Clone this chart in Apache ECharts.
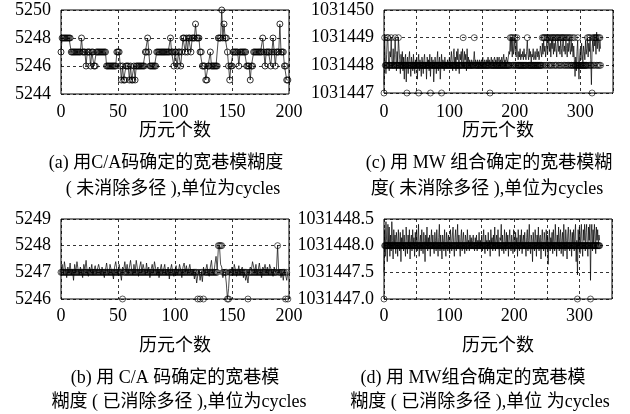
<!DOCTYPE html>
<html><head><meta charset="utf-8">
<script src="https://cdn.jsdelivr.net/npm/echarts/dist/echarts.min.js"></script>
<style>html,body{margin:0;padding:0;background:#fff}#c{width:630px;height:414px}</style>
</head><body><div id="c"></div><script>
// ---------- tick labels ----------
const aYTicks=[5244,5246,5248,5250];
const bYTicks=[5246,5247,5248,5249];
const cYTicks=[1031447,1031448,1031449,1031450];
const dYTicks=[1031447.0,1031447.5,1031448.0,1031448.5];
const abXTicks=[0,50,100,150,200];
const cdXTicks=[0,100,200,300];
const cdXMax=350;
const xLabel='历元个数';
const captionA=['(a) 用C/A码确定的宽巷模糊度','( 未消除多径 ),单位为cycles'];
const captionC=['(c) 用 MW 组合确定的宽巷模糊','度( 未消除多径 ),单位为cycles'];
const captionB=['(b) 用 C/A 码确定的宽巷模','糊度 ( 已消除多径 ),单位为cycles'];
const captionD=['(d) 用 MW组合确定的宽巷模','糊度 ( 已消除多径 ),单位 为cycles'];

// ---------- (a) C/A wide-lane ambiguity, multipath not removed (epoch = index) ----------
const aInt=[
5247,5248,5248,5248,5248,5248,5248,5248,5248,5247,
5247,5247,5247,5247,5247,5247,5247,5247,5248,5247,
5247,5247,5246,5247,5247,5247,5246,5247,5247,5246,
5246,5247,5247,5247,5247,5247,5247,5247,5247,5247,
5246,5246,5246,5246,5246,5246,5246,5246,5246,5247,
5247,5247,5246,5245,5246,5245,5245,5246,5246,5246,
5245,5246,5245,5245,5246,5245,5246,5246,5246,5246,
5246,5246,5246,5246,5247,5247,5248,5247,5246,5246,
5246,5246,5246,5246,5247,5247,5247,5247,5247,5247,
5247,5247,5247,5247,5247,5247,5248,5247,5247,5246,
5247,5247,5246,5247,5247,5246,5247,5248,5248,5247,
5248,5247,5248,5248,5247,5248,5248,5248,5249,5248,
5248,5248,5247,5247,5246,5246,5246,5245,5245,5246,
5246,5247,5246,5246,5246,5246,5246,5246,5248,5248,
5248,5250,5248,5249,5248,5248,5247,5246,5245,5246,
5246,5247,5247,5247,5247,5247,5246,5247,5247,5247,
5247,5247,5247,5246,5246,5246,5245,5246,5246,5247,
5247,5247,5247,5247,5247,5247,5247,5248,5247,5246,
5247,5247,5247,5247,5246,5247,5248,5247,5246,5247,
5247,5247,5249,5247,5247,5247,5246,5246,5245,5245];

// ---------- (b) C/A, multipath removed ----------
const bFloat=[
5247.0,5247.3,5246.9,5247.4,5247.1,5246.8,5247.2,5247.0,5247.35,5246.9,
5247.1,5246.7,5247.3,5247.0,5247.4,5247.1,5246.9,5247.2,5247.0,5246.8,
5247.3,5247.1,5247.45,5247.0,5246.85,5247.2,5247.0,5247.3,5246.9,5247.1,
5247.25,5246.95,5247.0,5247.3,5247.1,5246.9,5247.2,5247.0,5246.8,5247.1,
5247.35,5247.0,5246.9,5247.3,5247.1,5247.0,5246.75,5247.2,5247.4,5247.1,
5246.9,5247.3,5247.0,5246.7,5247.2,5247.1,5247.4,5247.0,5247.3,5246.95,
5247.2,5247.45,5247.1,5246.9,5247.3,5247.0,5247.45,5247.15,5246.85,5247.2,
5247.4,5247.0,5247.3,5247.1,5246.9,5247.35,5247.0,5247.2,5246.8,5247.1,
5247.3,5247.0,5247.4,5247.15,5246.9,5247.2,5246.8,5247.1,5247.3,5246.95,
5247.1,5247.3,5246.9,5247.0,5247.2,5246.75,5247.1,5247.3,5247.0,5246.85,
5247.1,5247.25,5246.9,5247.0,5247.3,5247.1,5246.8,5247.2,5247.35,5247.0,
5247.25,5246.95,5247.1,5247.3,5247.0,5246.9,5247.1,5246.75,5247.0,5246.6,
5246.9,5247.1,5246.7,5247.0,5246.65,5247.2,5246.9,5247.1,5247.3,5247.0,
5246.85,5247.2,5247.45,5247.0,5246.9,5247.3,5247.6,5247.1,5247.9,5248.0,
5247.3,5247.2,5246.8,5247.1,5247.0,5246.6,5246.0,5246.4,5247.1,5247.0,
5247.2,5246.9,5247.3,5247.1,5246.85,5247.0,5247.25,5246.9,5247.1,5247.2,
5246.8,5247.0,5246.7,5246.9,5246.6,5247.0,5247.2,5247.1,5247.4,5247.2,
5247.0,5247.3,5246.9,5247.1,5247.35,5247.0,5246.8,5247.2,5247.1,5247.3,
5247.0,5247.2,5246.9,5247.3,5247.15,5247.0,5246.85,5247.2,5247.0,5247.1,
5248.0,5247.0,5247.1,5246.8,5247.0,5246.7,5247.1,5246.9,5246.7,5247.0];
const bInt=[
5247,5247,5247,5247,5247,5247,5247,5247,5247,5247,
5247,5247,5247,5247,5247,5247,5247,5247,5247,5247,
5247,5247,5247,5247,5247,5247,5247,5247,5247,5247,
5247,5247,5247,5247,5247,5247,5247,5247,5247,5247,
5247,5247,5247,5247,5247,5247,5247,5247,5247,5247,
5247,5247,5247,5247,5246,5247,5247,5247,5247,5247,
5247,5247,5247,5247,5247,5247,5247,5247,5247,5247,
5247,5247,5247,5247,5247,5247,5247,5247,5247,5247,
5247,5247,5247,5247,5247,5247,5247,5247,5247,5247,
5247,5247,5247,5247,5247,5247,5247,5247,5247,5247,
5247,5247,5247,5247,5247,5247,5247,5247,5247,5247,
5247,5247,5247,5247,5247,5247,5247,5247,5247,5247,
5246,5247,5246,5247,5247,5246,5247,5247,5247,5247,
5247,5247,5247,5247,5247,5247,5247,5247,5248,5248,
5248,5248,5247,5247,5247,5247,5246,5246,5247,5247,
5247,5247,5247,5247,5247,5247,5247,5247,5247,5247,
5247,5247,5247,5247,5246,5247,5247,5247,5247,5247,
5247,5247,5247,5247,5247,5247,5247,5247,5247,5247,
5247,5247,5247,5247,5247,5247,5247,5247,5247,5247,
5248,5247,5247,5247,5247,5247,5247,5246,5247,5246];

// ---------- (c) MW combination, multipath not removed: value = cBase + offset ----------
const cBase=1031448;
const cFloatOffset=[
-0.7,1.0,0.2,-0.3,0.4,1.0,0.9,0.1,-0.2,0.5,
0.3,1.0,0.2,-0.1,0.6,0.0,0.3,1.0,0.4,-0.2,
0.5,0.1,1.0,0.6,0.2,-0.3,0.4,0.0,0.5,-0.2,
0.3,-0.5,0.2,0.4,-0.6,0.1,0.3,-0.3,0.2,0.5,
0.0,-0.4,0.3,0.1,-0.2,0.4,0.0,-0.3,0.2,-0.1,
0.3,-0.5,0.1,0.4,-0.2,0.2,0.0,-0.4,0.3,0.1,
-0.3,0.2,0.4,-0.1,0.1,-0.5,0.3,0.0,0.2,-0.2,
0.4,-0.4,0.1,0.3,-0.1,0.2,-0.6,0.0,0.3,0.1,
-0.3,0.2,0.5,-0.2,0.1,0.3,-0.5,0.0,0.4,-0.1,
0.2,0.1,-0.2,0.3,0.0,0.1,-0.1,0.2,0.0,0.1,
0.3,-0.1,0.2,0.5,0.1,-0.2,0.4,0.6,0.0,0.3,
-0.2,0.5,0.2,0.6,0.1,-0.3,0.4,0.2,0.5,0.0,
0.6,0.6,-0.1,0.5,0.2,0.4,-0.2,0.6,0.1,0.3,
0.0,0.2,0.1,-0.1,0.2,0.1,0.0,0.2,0.5,0.1,
0.2,0.0,0.1,0.2,-0.1,0.1,0.2,0.0,0.1,0.2,
0.1,0.3,0.0,0.1,0.2,0.1,0.0,0.2,0.1,0.3,
0.1,0.2,0.0,0.1,0.3,0.1,0.2,0.0,0.2,0.3,
0.1,0.2,0.0,0.3,0.1,0.2,0.3,0.0,0.2,0.1,
0.3,0.1,0.2,0.4,0.1,0.2,0.0,0.3,0.2,0.1,
0.3,0.5,0.4,1.0,0.5,1.0,0.3,1.0,0.4,0.6,
1.0,0.5,0.3,0.9,0.4,0.2,0.5,0.3,0.6,0.2,
0.4,0.3,0.5,0.2,0.6,0.3,0.4,0.2,0.5,0.9,
0.4,0.2,0.6,0.3,0.5,0.1,0.4,0.3,0.6,0.2,
0.3,0.5,0.2,0.4,0.6,0.3,0.5,0.2,0.4,0.7,
0.5,0.3,0.8,0.4,0.9,0.5,0.7,0.3,0.6,0.9,
0.4,0.7,1.0,0.5,0.8,0.3,0.9,0.6,1.0,0.4,
0.8,0.5,0.9,0.6,0.3,0.8,1.0,0.5,0.7,0.4,
0.9,0.6,0.3,0.8,1.0,0.5,0.7,0.4,0.9,0.6,
0.3,0.8,0.5,1.0,0.6,0.4,0.9,0.5,0.8,0.3,
0.7,0.2,-0.4,0.3,-0.2,0.5,0.9,0.1,-0.5,0.3,
0.6,0.2,0.8,0.4,0.1,0.7,0.5,0.2,0.9,0.4,
0.6,1.0,0.3,0.8,0.5,1.0,0.2,-0.7,0.6,0.9,
0.5,1.1,0.7,0.9,0.4,1.2,0.6,1.0,0.8,0.5,
0.9,0.6];
const cIntOffset=[
-1,1,0,0,0,1,1,0,0,0,
0,1,0,0,0,0,0,1,0,0,
0,0,1,0,0,0,0,0,0,0,
0,0,0,0,0,-1,0,0,0,0,
0,0,0,0,0,0,0,0,0,0,
0,0,0,-1,0,0,0,0,0,0,
0,0,0,0,0,0,0,0,0,0,
0,-1,0,0,0,0,0,0,0,0,
0,0,0,0,0,0,0,0,-1,0,
0,0,0,0,0,0,0,0,0,0,
0,0,0,0,0,0,0,0,0,0,
0,0,0,0,0,0,0,0,0,0,
0,1,0,0,0,0,0,0,0,0,
0,0,0,0,0,0,0,0,1,0,
0,0,0,0,0,0,0,0,0,0,
0,0,0,0,0,0,0,0,0,0,
0,0,-1,0,0,0,0,0,0,0,
0,0,0,0,0,0,0,0,0,0,
0,0,0,0,0,0,0,0,0,0,
0,0,0,1,0,1,0,1,0,0,
1,0,0,1,0,0,0,0,0,0,
0,0,0,0,0,0,0,0,0,1,
0,0,0,0,0,0,0,0,0,0,
0,0,0,0,0,0,0,0,0,0,
0,0,1,0,1,1,0,1,0,1,
1,0,1,0,1,0,1,0,1,1,
0,1,0,1,0,1,1,0,1,0,
1,0,1,1,0,1,0,1,0,1,
0,1,0,1,0,1,0,0,1,0,
0,1,0,0,0,0,1,0,0,0,
0,0,0,0,0,0,0,0,0,0,
0,1,0,1,0,1,0,0,-1,1,
0,1,0,1,1,0,1,0,1,0,
1,0];

// ---------- (d) MW combination, multipath removed: value = dBase + offset ----------
const dBase=1031448;
const dFloatOffset=[
-0.5,0.3,-0.2,0.45,0.1,-0.3,0.4,0.0,0.35,-0.2,
0.2,-0.1,0.45,0.1,-0.25,0.3,0.0,0.2,-0.15,0.25,
0.1,-0.2,0.3,0.05,-0.1,0.25,-0.3,0.15,0.0,0.3,
-0.1,0.2,0.0,-0.2,0.35,0.1,-0.15,0.2,0.0,0.3,
-0.25,0.1,0.2,-0.1,0.3,0.0,0.15,-0.2,0.25,0.05,
0.3,-0.1,0.1,0.4,-0.2,0.05,0.2,-0.1,0.3,0.0,
-0.15,0.25,0.1,-0.3,0.2,0.0,0.35,-0.1,0.15,0.0,
0.2,-0.2,0.1,0.3,-0.05,0.2,0.0,-0.15,0.25,0.1,
-0.1,0.3,0.05,-0.2,0.15,0.4,-0.1,0.2,0.0,-0.25,
0.2,0.1,-0.1,0.3,0.0,-0.2,0.25,0.1,-0.1,0.2,
0.05,-0.15,0.3,0.1,-0.1,0.2,0.35,0.0,-0.2,0.15,
0.3,-0.1,0.1,0.4,-0.05,0.2,0.0,-0.2,0.15,0.3,
-0.1,0.1,0.25,0.0,-0.15,0.2,0.1,-0.1,0.3,0.05,
0.1,-0.1,0.2,0.0,0.15,-0.05,0.1,0.2,0.0,-0.1,
0.15,0.05,0.2,-0.1,0.1,0.0,0.25,-0.05,0.1,0.0,
0.2,-0.1,0.1,0.3,0.0,-0.15,0.2,0.05,0.1,-0.1,
0.25,0.0,0.1,-0.2,0.3,0.05,0.15,-0.1,0.2,0.0,
0.35,-0.1,0.1,0.2,-0.05,0.3,0.0,-0.2,0.15,0.1,
0.4,-0.1,0.2,0.0,-0.15,0.3,0.1,-0.1,0.25,0.0,
0.2,-0.2,0.1,0.3,0.0,-0.1,0.2,0.05,-0.15,0.3,
0.1,-0.1,0.25,0.0,0.15,-0.2,0.3,0.05,-0.1,0.2,
0.0,0.3,-0.15,0.1,0.2,-0.05,0.25,0.0,-0.2,0.15,
0.3,-0.1,0.1,0.4,0.0,-0.15,0.2,0.1,-0.3,0.25,
0.05,-0.1,0.3,0.1,-0.2,0.2,0.0,0.35,-0.1,0.15,
0.2,-0.25,0.1,0.3,0.0,-0.1,0.25,0.1,-0.2,0.3,
0.0,0.2,-0.35,0.1,0.3,-0.1,0.15,0.0,0.25,-0.15,
0.3,0.05,-0.1,0.4,0.1,-0.2,0.2,0.0,0.35,-0.1,
0.15,0.3,-0.15,0.1,0.25,-0.2,0.4,0.0,-0.1,0.3,
0.1,-0.25,0.2,0.35,0.0,-0.1,0.3,0.15,-0.2,0.25,
0.05,0.3,-0.1,0.2,0.4,-0.3,0.1,-0.55,0.3,0.0,
0.35,-0.15,0.2,0.4,0.0,-0.2,0.3,0.1,0.4,-0.1,
0.25,0.4,0.0,-0.2,0.35,0.1,0.4,-0.65,0.2,0.4,
-0.1,0.3,0.05,0.4,0.2,-0.15,0.35,0.1,0.3,0.0,
0.2,0.1];
const dIntOffset=[
-1,0,0,0,0,0,0,0,0,0,
0,0,0,0,0,0,0,0,0,0,
0,0,0,0,0,0,0,0,0,0,
0,0,0,0,0,0,0,0,0,0,
0,0,0,0,0,0,0,0,0,0,
0,0,0,0,0,0,0,0,0,0,
0,0,0,0,0,0,0,0,0,0,
0,0,0,0,0,0,0,0,0,0,
0,0,0,0,0,0,0,0,0,0,
0,0,0,0,0,0,0,0,0,0,
0,0,0,0,0,0,0,0,0,0,
0,0,0,0,0,0,0,0,0,0,
0,0,0,0,0,0,0,0,0,0,
0,0,0,0,0,0,0,0,0,0,
0,0,0,0,0,0,0,0,0,0,
0,0,0,0,0,0,0,0,0,0,
0,0,0,0,0,0,0,0,0,0,
0,0,0,0,0,0,0,0,0,0,
0,0,0,0,0,0,0,0,0,0,
0,0,0,0,0,0,0,0,0,0,
0,0,0,0,0,0,0,0,0,0,
0,0,0,0,0,0,0,0,0,0,
0,0,0,0,0,0,0,0,0,0,
0,0,0,0,0,0,0,0,0,0,
0,0,0,0,0,0,0,0,0,0,
0,0,0,0,0,0,0,0,0,0,
0,0,0,0,0,0,0,0,0,0,
0,0,0,0,0,0,0,0,0,0,
0,0,0,0,0,0,0,0,0,0,
0,0,0,0,0,0,0,-1,0,0,
0,0,0,0,0,0,0,0,0,0,
0,0,0,0,0,0,0,-1,0,0,
0,0,0,0,0,0,0,0,0,0,
0,0];

// ---------- chart ----------
const SERIF='"Liberation Serif","Noto Sans CJK SC",serif';
const FONT_SZ=18;
const toPts=(arr,base)=>arr.map((v,i)=>[i,(base||0)+v]);

function xAxisDef(gi,ticks,max,margin){
  const step=50;
  return {type:'value',gridIndex:gi,min:ticks[0],max:max,interval:step,
    axisLine:{show:false},axisTick:{show:false},
    splitLine:{show:true,lineStyle:{type:[3,3],color:'#000',width:0.8}},
    axisLabel:{color:'#000',fontFamily:SERIF,fontSize:FONT_SZ,margin:margin,
      showMinLabel:true,showMaxLabel:true,
      formatter:v=>ticks.indexOf(v)>=0?String(v):''}};
}
function yAxisDef(gi,ticks,dec){
  return {type:'value',gridIndex:gi,min:ticks[0],max:ticks[ticks.length-1],
    interval:ticks[1]-ticks[0],scale:true,
    axisLine:{show:false},axisTick:{show:false},
    splitLine:{show:true,lineStyle:{type:[3,3],color:'#000',width:0.8}},
    axisLabel:{color:'#000',fontFamily:SERIF,fontSize:FONT_SZ,margin:10,
      formatter:v=>v.toFixed(dec)}};
}
const circleStyle={color:'rgba(0,0,0,0)',borderColor:'#000',borderWidth:0.8};
function circles(gi,data){
  return {type:'scatter',xAxisIndex:gi,yAxisIndex:gi,data:data,symbol:'circle',
    symbolSize:6,itemStyle:circleStyle,silent:true,z:2};
}
function floatLine(gi,data){
  return {type:'line',xAxisIndex:gi,yAxisIndex:gi,data:data,showSymbol:false,
    lineStyle:{color:'#000',width:0.7},silent:true,z:3};
}
const gridBase={show:true,borderColor:'#000',borderWidth:1,backgroundColor:'transparent'};

function txt(x,y,t){
  return {type:'text',x:x,y:y,silent:true,
    style:{text:t,fill:'#000',font:FONT_SZ+'px '+SERIF,align:'center',verticalAlign:'middle'}};
}

const chart=echarts.init(document.getElementById('c'),null,{renderer:'canvas'});
chart.setOption({
  animation:false,
  backgroundColor:'#fff',
  grid:[
    Object.assign({left:61,top:10,width:228,height:84},gridBase),
    Object.assign({left:384,top:10,width:229,height:83},gridBase),
    Object.assign({left:61,top:219,width:228,height:80},gridBase),
    Object.assign({left:384,top:219,width:228,height:80},gridBase)
  ],
  xAxis:[xAxisDef(0,abXTicks,200,9),xAxisDef(1,cdXTicks,cdXMax,10),xAxisDef(2,abXTicks,200,8),xAxisDef(3,cdXTicks,cdXMax,8)],
  yAxis:[yAxisDef(0,aYTicks,0),yAxisDef(1,cYTicks,0),yAxisDef(2,bYTicks,0),yAxisDef(3,dYTicks,1)],
  series:[
    {type:'line',xAxisIndex:0,yAxisIndex:0,data:toPts(aInt),symbol:'circle',symbolSize:6,
      showSymbol:true,showAllSymbol:true,itemStyle:circleStyle,lineStyle:{color:'#000',width:0.7},silent:true},
    circles(1,toPts(cIntOffset,cBase)),
    floatLine(1,toPts(cFloatOffset,cBase)),
    circles(2,toPts(bInt)),
    floatLine(2,toPts(bFloat)),
    circles(3,toPts(dIntOffset,dBase)),
    floatLine(3,toPts(dFloatOffset,dBase))
  ],
  graphic:[
    txt(175,131,xLabel),txt(498,131,xLabel),
    txt(166,163,captionA[0]),txt(173,189,captionA[1]),
    txt(489,163,captionC[0]),txt(487,189,captionC[1]),
    txt(175,346,xLabel),txt(498,346,xLabel),
    txt(175,378,captionB[0]),txt(179,402,captionB[1]),
    txt(473,378,captionD[0]),txt(480,402,captionD[1])
  ]
});
</script></body></html>
